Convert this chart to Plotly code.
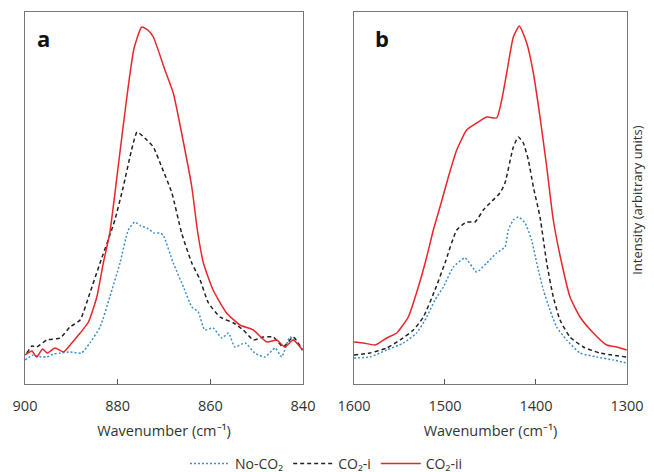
import plotly.graph_objects as go

# Panel a (900-840 cm-1)
a_no_w = [900, 898.2, 896.5, 895.3, 893.8, 892.4, 890.3, 887.8, 886, 883.8, 881.7, 879.5, 877.7, 876.3, 875, 873.7, 872.1, 870.9, 870.2,
          868, 865.8, 864, 862.6, 861.2, 859.4, 857.5, 856.1, 854.7, 852.5, 850.4, 848.2, 846, 844.6, 842.8, 840.1]
a_no_i = [24, 29, 27, 27, 30, 31, 32, 31, 41, 57, 87, 121, 154, 162, 158, 156, 151, 151, 149,
          121, 97, 77, 72, 54, 56, 46, 51, 37, 41, 31, 27, 36, 27, 47, 34]

a_c1_w = [899.6, 898.5, 897.5, 895.3, 892.4, 890.3, 888.1, 886, 883.8, 881.3, 880.6, 878.8, 877, 875.8, 873.7, 872.3, 870.5, 868.3,
          866.2, 864, 862.2, 860.4, 857.9, 855, 852.9, 850.7, 848.6, 846.4, 844.3, 842.1, 840.1]
a_c1_i = [31, 38, 37, 44, 46, 57, 64, 91, 121, 154, 164, 197, 234, 252, 244, 237, 217, 191,
          151, 121, 104, 81, 67, 61, 54, 44, 47, 47, 37, 47, 34]

a_c2_w = [900, 898.5, 897.5, 896.2, 895.2, 893.5, 891.7, 889.9, 888.1, 886.3, 884.5, 883.1, 881.7, 879.9, 878.1, 876.5, 874.8, 873.5,
          872.3, 869.8, 868, 866.2, 864, 862.8, 861.5, 859.4, 856.5, 853.6, 850.7, 847.8, 845.7, 843.9, 842.1, 840.1]
a_c2_i = [29, 33, 27, 35, 31, 36, 32, 41, 51, 62, 87, 121, 151, 217, 284, 335, 357, 354,
          347, 314, 291, 251, 197, 154, 121, 94, 71, 59, 54, 42, 44, 37, 44, 34]

# Panel b (1600-1300 cm-1)
b_no_w = [1600, 1582.4, 1564.1, 1545.7, 1531.1, 1520.1, 1511, 1501.8, 1490.8, 1478, 1465.2, 1454.2, 1443.2, 1434.1, 1430.4, 1424.9,
          1419.4, 1412.1, 1404.8, 1399.2, 1391.9, 1384.6, 1377.3, 1366.3, 1351.6, 1333.3, 1315, 1300.4]
b_no_i = [26, 27, 34, 41, 51, 67, 84, 97, 117, 126, 112, 121, 131, 137, 154, 164,
          167, 161, 144, 121, 94, 74, 57, 44, 31, 27, 24, 21]

b_c1_w = [1600, 1582.4, 1564.1, 1549.5, 1534.8, 1523.8, 1511, 1500, 1487.1, 1476.2, 1467, 1457.9, 1450.5, 1439.6, 1434.1, 1424.9,
          1419.4, 1413.9, 1408.4, 1402.9, 1395.6, 1388.2, 1381, 1373.6, 1362.6, 1348, 1329.7, 1300.4]
b_c1_i = [29, 31, 36, 44, 54, 67, 94, 121, 154, 162, 162, 174, 181, 191, 201, 237,
          247, 241, 224, 197, 167, 121, 87, 64, 47, 37, 31, 27]

b_c2_w = [1600, 1589.8, 1576.9, 1564.1, 1553.1, 1540.3, 1529.3, 1520.1, 1512.8, 1505.5, 1496.3, 1487.1, 1476.2, 1465.2, 1454.2,
          1443.2, 1437.7, 1432.2, 1424.9, 1418.3, 1410.2, 1402.9, 1395.6, 1388.2, 1381, 1371.8, 1362.6, 1351.6, 1337, 1322.3, 1311.4, 1300.4]
b_c2_i = [42, 41, 39, 46, 51, 67, 97, 127, 154, 177, 207, 234, 254, 261, 267,
          266, 284, 311, 347, 358, 341, 311, 267, 217, 164, 121, 87, 67, 51, 39, 37, 34]

a_ticks = [900, 880, 860, 840]
b_ticks = [1600, 1500, 1400, 1300]

names = ["No-CO₂", "CO₂-i", "CO₂-ii"]
colors = ["#3d8fd1", "#222222", "#e8262b"]
dashes = ["2px,2px", "4px,3px", "solid"]

fig = go.Figure()
panels = [(a_no_w, a_no_i, a_c1_w, a_c1_i, a_c2_w, a_c2_i, "x", "y"),
          (b_no_w, b_no_i, b_c1_w, b_c1_i, b_c2_w, b_c2_i, "x2", "y2")]
for p, (w0, i0, w1, i1, w2, i2, xa, ya) in enumerate(panels):
    for k, (w, i) in enumerate([(w0, i0), (w1, i1), (w2, i2)]):
        fig.add_trace(go.Scatter(x=w, y=i, mode="lines", name=names[k], xaxis=xa, yaxis=ya,
                                 line=dict(color=colors[k], dash=dashes[k], width=1.5,
                                           shape="spline", smoothing=0.5),
                                 showlegend=(p == 0)))

axis_common = dict(showgrid=False, zeroline=False, showline=True, mirror=True,
                   linecolor="#777777", linewidth=1.2, automargin=False)
xtitle = dict(text="Wavenumber (cm⁻¹)", font=dict(size=14.5, color="#333"), standoff=12)
fig.update_layout(
    width=654, height=472,
    margin=dict(l=17, r=35, t=4, b=96, autoexpand=False),
    paper_bgcolor="white", plot_bgcolor="white",
    font=dict(family="Open Sans", color="#333333", size=14),
    xaxis=dict(domain=[0, 0.4618], range=[900, 840], tickvals=a_ticks,
               ticks="inside", ticklen=5, tickcolor="#555", tickfont=dict(size=14.5),
               ticklabelstandoff=8, title=xtitle, **axis_common),
    xaxis2=dict(domain=[0.5465, 1], range=[1600, 1300], tickvals=b_ticks,
                ticks="inside", ticklen=5, tickcolor="#555", tickfont=dict(size=14.5),
                ticklabelstandoff=8, title=xtitle, **axis_common),
    yaxis=dict(range=[0, 372], showticklabels=False, ticks="", anchor="x", **axis_common),
    yaxis2=dict(range=[0, 372], showticklabels=False, ticks="", anchor="x2", **axis_common),
    legend=dict(orientation="h", x=0.5, xanchor="center", y=-0.215, yanchor="middle",
                font=dict(size=14), itemwidth=40, tracegroupgap=0),
    annotations=[
        dict(text="<b>a</b>", xref="x domain", yref="y domain", x=0.035, y=0.93,
             xanchor="left", yanchor="middle", showarrow=False, font=dict(size=22, color="#111")),
        dict(text="<b>b</b>", xref="x2 domain", yref="y2 domain", x=0.07, y=0.93,
             xanchor="left", yanchor="middle", showarrow=False, font=dict(size=22, color="#111")),
        dict(text="Intensity (arbitrary units)", xref="paper", yref="paper", x=1.0166, y=0.495,
             textangle=-90, showarrow=False, font=dict(size=13, color="#333"),
             xanchor="center", yanchor="middle"),
    ],
)

fig.write_html("out.html")
